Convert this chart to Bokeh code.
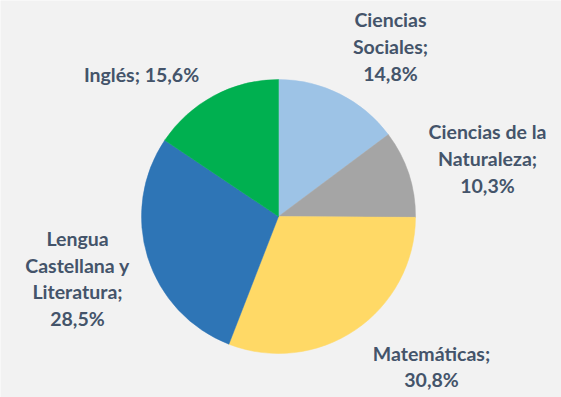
from math import pi

from bokeh.core.properties import value
from bokeh.embed import file_html
from bokeh.models import ColumnDataSource, Range1d
from bokeh.plotting import figure
from bokeh.resources import INLINE

# Share of teaching hours per subject (%)
subjects = ["Ciencias Sociales", "Ciencias de la Naturaleza", "Matemáticas",
            "Lengua Castellana y Literatura", "Inglés"]
shares = [14.8, 10.3, 30.8, 28.5, 15.6]
colors = ["#9DC3E6", "#A5A5A5", "#FFD966", "#2E75B6", "#00B050"]

# Label text, broken into lines the way they are laid out around the pie
label_lines = [
    ["Ciencias", "Sociales;"],
    ["Ciencias de la", "Naturaleza;"],
    ["Matemáticas;"],
    ["Lengua", "Castellana y", "Literatura;"],
    ["Inglés;"],
]

W, H = 561, 397
CX, CY, R = 278, H - 216, 137

# Wedges run clockwise starting at twelve o'clock
total = sum(shares)
starts, ends = [], []
acc = 0.0
for s in shares:
    starts.append(pi / 2 - 2 * pi * acc / total)
    acc += s
    ends.append(pi / 2 - 2 * pi * acc / total)

src = ColumnDataSource(dict(start=starts, end=ends, color=colors))

p = figure(width=W, height=H, output_backend="svg", toolbar_location=None,
           x_range=Range1d(0, W), y_range=Range1d(0, H), min_border=0)
p.axis.visible = False
p.grid.visible = False
p.outline_line_color = None
p.background_fill_color = "#F2F2F2"
p.border_fill_color = "#F2F2F2"

p.wedge(x=CX, y=CY, radius=R, start_angle="start", end_angle="end",
        direction="clock", fill_color="color", line_color="color",
        line_width=0.5, source=src)

# Label anchors (centre of each text block, in pixels from the top-left)
anchors = [(390, 46), (487, 158), (431, 366), (77, 278), (141, 74)]


def fmt(v):
    return f"{v:.1f}%".replace(".", ",")


texts, tx, ty = [], [], []
for i, lines in enumerate(label_lines):
    if i == 4:
        body = f"{lines[0]} {fmt(shares[i])}"
    else:
        body = "\n".join(lines + [fmt(shares[i])])
    texts.append(body)
    tx.append(anchors[i][0])
    ty.append(H - anchors[i][1])

p.text(x=tx, y=ty, text=texts, text_align="center", text_baseline="middle",
       text_font=value("Lato"), text_font_style="bold", text_font_size="19.5px",
       text_color="#44546A", text_line_height=1.16)

open("out.html", "w").write(file_html(p, INLINE))
